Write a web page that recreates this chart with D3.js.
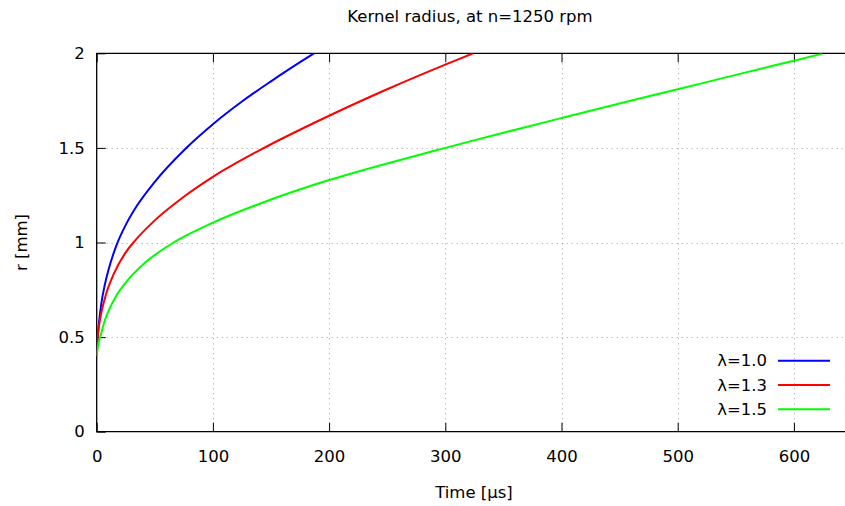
<!DOCTYPE html>
<html>
<head>
<meta charset="utf-8">
<script src="https://cdn.jsdelivr.net/npm/d3@7"></script>
<style>
  body { margin: 0; background: #fff; }
  svg { display: block; font-family: "DejaVu Sans", sans-serif; }
</style>
</head>
<body>
<svg id="chart" width="845" height="506"></svg>
<script>
// Labels and ticks
const titleText = "Kernel radius, at n=1250 rpm";
const xLabel = "Time [μs]";
const yLabel = "r [mm]";
const xTicks = [0, 100, 200, 300, 400, 500, 600];
const yTicks = [0, 0.5, 1, 1.5, 2];

// Series: kernel radius r [mm] over time t [μs]
const seriesNames = ["λ=1.0", "λ=1.3", "λ=1.5"];
const seriesColors = ["#0000ff", "#ff0000", "#00ff00"];

const timeL10 = [0, 1, 2, 4, 7, 10, 17, 25, 35, 50, 76, 100, 125, 150, 175, 187];
const radiusL10 = [0.40, 0.508, 0.578, 0.678, 0.777, 0.852, 0.985, 1.093, 1.198, 1.321, 1.493, 1.625, 1.745, 1.852, 1.953, 2.00];

const timeL13 = [0, 1, 2, 4, 8, 15, 25, 33, 50, 75, 100, 140, 200, 250, 300, 324];
const radiusL13 = [0.40, 0.51, 0.56, 0.63, 0.726, 0.838, 0.948, 1.01, 1.117, 1.242, 1.347, 1.487, 1.67, 1.81, 1.94, 2.00];

const timeL15 = [0, 1, 3.4, 7, 10, 17, 25, 42, 67, 100, 150, 200, 250, 300, 350, 400, 450, 500, 550, 600, 624];
const radiusL15 = [0.40, 0.45, 0.509, 0.588, 0.636, 0.72, 0.788, 0.895, 1.003, 1.105, 1.227, 1.33, 1.418, 1.50, 1.58, 1.658, 1.735, 1.81, 1.886, 1.961, 1.997];

const seriesTimes = [timeL10, timeL13, timeL15];
const seriesRadii = [radiusL10, radiusL13, radiusL15];

const svg = d3.select("#chart");
const plotLeft = 96.7, plotRight = 852, plotTop = 53.3, plotBottom = 431.7;
const fontSize = "16.5px";

const x = d3.scaleLinear().domain([0, 650]).range([plotLeft, plotRight]);
const y = d3.scaleLinear().domain([0, 2]).range([plotBottom, plotTop]);

const defs = svg.append("defs");
defs.append("clipPath").attr("id", "plotClip")
  .append("rect").attr("x", plotLeft).attr("y", plotTop)
  .attr("width", plotRight - plotLeft).attr("height", plotBottom - plotTop);

// Dotted grid
const grid = svg.append("g").attr("stroke", "#a0a0a0").attr("stroke-width", 1)
  .attr("stroke-dasharray", "1,4");
grid.selectAll("line.gx").data(xTicks.filter(d => d > 0)).join("line")
  .attr("x1", d => Math.round(x(d)) + 0.5).attr("x2", d => Math.round(x(d)) + 0.5)
  .attr("y1", plotTop).attr("y2", plotBottom);
grid.selectAll("line.gy").data(yTicks.filter(d => d > 0 && d < 2)).join("line")
  .attr("x1", plotLeft).attr("x2", plotRight)
  .attr("y1", d => Math.round(y(d)) + 0.5).attr("y2", d => Math.round(y(d)) + 0.5);

// Axes (ticks drawn inward)
const tickLen = 9;
const xAxisB = d3.axisBottom(x).tickValues(xTicks).tickSize(-tickLen).tickPadding(19).tickFormat(d3.format("d"));
const xAxisT = d3.axisTop(x).tickValues(xTicks).tickSize(-tickLen).tickFormat("");
const yAxisL = d3.axisLeft(y).tickValues(yTicks).tickSize(-tickLen).tickPadding(12).tickFormat(d => String(d));

function styleAxis(g) {
  g.select(".domain").remove();
  g.selectAll(".tick line").attr("stroke", "#000").attr("stroke-width", 1);
  g.selectAll(".tick text").attr("fill", "#000").style("font-size", fontSize)
    .style("font-family", "\"DejaVu Sans\", sans-serif");
}
svg.append("g").attr("transform", `translate(0,${plotBottom})`).call(xAxisB).call(styleAxis);
svg.append("g").attr("transform", `translate(0,${plotTop})`).call(xAxisT).call(styleAxis);
svg.append("g").attr("transform", `translate(${plotLeft},0)`).call(yAxisL).call(styleAxis);

// Border
svg.append("path")
  .attr("d", `M${plotRight},${plotTop}H${plotLeft}V${plotBottom}H${plotRight}`)
  .attr("fill", "none").attr("stroke", "#000").attr("stroke-width", 1.3);

// Curves
const line = d3.line().x(d => x(d[0])).y(d => y(d[1])).curve(d3.curveMonotoneX);
const plot = svg.append("g").attr("clip-path", "url(#plotClip)");
seriesTimes.forEach((ts, i) => {
  const pts = ts.map((t, j) => [t, seriesRadii[i][j]]);
  plot.append("path").datum(pts)
    .attr("d", line)
    .attr("fill", "none")
    .attr("stroke", seriesColors[i])
    .attr("stroke-width", 2);
});

// Legend
const legend = svg.append("g");
seriesNames.forEach((name, i) => {
  const cy = 360.7 + i * 24.3;
  legend.append("text").attr("x", 767).attr("y", cy).attr("dy", "0.35em")
    .attr("text-anchor", "end").style("font-size", fontSize).attr("fill", "#000")
    .text(name);
  legend.append("line").attr("x1", 778).attr("x2", 830).attr("y1", cy).attr("y2", cy)
    .attr("stroke", seriesColors[i]).attr("stroke-width", 2);
});

// Title and axis labels
svg.append("text").attr("x", 470).attr("y", 22).attr("text-anchor", "middle")
  .style("font-size", fontSize).attr("fill", "#000").text(titleText);
svg.append("text").attr("x", 474).attr("y", 498).attr("text-anchor", "middle")
  .style("font-size", fontSize).attr("fill", "#000").text(xLabel);
svg.append("text").attr("transform", `translate(27,${(plotTop + plotBottom) / 2}) rotate(-90)`)
  .attr("text-anchor", "middle").style("font-size", fontSize).attr("fill", "#000").text(yLabel);
</script>
</body>
</html>
